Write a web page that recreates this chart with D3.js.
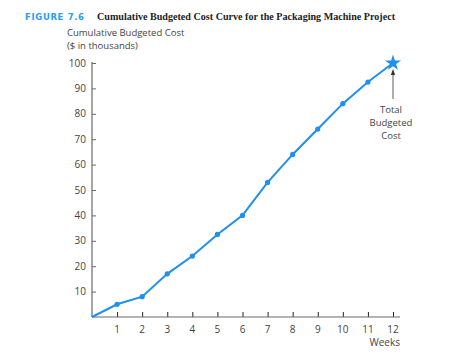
<!DOCTYPE html>
<html><head><meta charset="utf-8">
<script src="https://cdn.jsdelivr.net/npm/d3@7"></script>
<style>body{margin:0;background:#fff}svg{display:block}</style>
</head><body>
<svg id="c" width="467" height="354"></svg>
<script>
const weeks = [0,1,2,3,4,5,6,7,8,9,10,11,12];
const cumulativeCost = [0,5,8,17,24,32.5,40,53,64,74,84,92.5,100];
const xTicks = [1,2,3,4,5,6,7,8,9,10,11,12];
const yTicks = [10,20,30,40,50,60,70,80,90,100];
const titleLabel = "FIGURE 7.6";
const titleText = "Cumulative Budgeted Cost Curve for the Packaging Machine Project";
const yLabel = ["Cumulative Budgeted Cost","($ in thousands)"];
const xLabel = "Weeks";
const annotation = ["Total","Budgeted","Cost"];

const svg = d3.select("#c");
const blue = "#1f8ff0";
const axisCol = "#6b6b6b";
const textCol = "#444";
const sans = "'Open Sans','Noto Sans',sans-serif";

const x = d3.scaleLinear().domain([0,12]).range([92,393]);
const y = d3.scaleLinear().domain([0,100]).range([317,63]);

// title
svg.append("text").attr("x",25).attr("y",20).attr("font-family","'DejaVu Sans',sans-serif")
  .attr("font-weight","bold").attr("font-size",8.5).attr("fill","#2a9df4")
  .attr("letter-spacing",1).attr("textLength",60).text(titleLabel);
svg.append("text").attr("x",97).attr("y",20).attr("font-family","'Liberation Serif',serif")
  .attr("font-weight","bold").attr("font-size",10.5).attr("fill","#222")
  .attr("textLength",298).attr("lengthAdjust","spacingAndGlyphs").text(titleText);

// y label
yLabel.forEach((t,i)=>svg.append("text").attr("x",67).attr("y",36+i*13)
  .attr("font-family",sans).attr("font-size",9.5).attr("fill",textCol).text(t));

// axes
const xAxis = svg.append("g").attr("transform",`translate(0,${y(0)})`)
  .call(d3.axisTop(x).tickValues(xTicks).tickSize(5).tickFormat(""));
xAxis.select(".domain").remove();
xAxis.selectAll(".tick line").attr("stroke","#222");
svg.append("line").attr("x1",x(0)).attr("x2",400).attr("y1",y(0)).attr("y2",y(0))
  .attr("stroke",axisCol).attr("stroke-width",1.2);
svg.selectAll(".xl").data(xTicks).enter().append("text").attr("class","xl")
  .attr("x",d=>x(d)).attr("y",y(0)+16).attr("text-anchor","middle")
  .attr("font-family",sans).attr("font-size",10).attr("fill",textCol).text(d=>d);

const yAxis = svg.append("g").attr("transform",`translate(${x(0)},0)`)
  .call(d3.axisRight(y).tickValues(yTicks).tickSize(4).tickFormat(""));
yAxis.select(".domain").remove();
yAxis.selectAll(".tick line").attr("stroke",axisCol);
svg.append("line").attr("x1",x(0)).attr("x2",x(0)).attr("y1",y(0)).attr("y2",y(100)-1)
  .attr("stroke",axisCol).attr("stroke-width",1.2);
svg.selectAll(".yl").data(yTicks).enter().append("text").attr("class","yl")
  .attr("x",x(0)-6).attr("y",d=>y(d)+3.5).attr("text-anchor","end")
  .attr("font-family",sans).attr("font-size",10).attr("fill",textCol).text(d=>d);

svg.append("text").attr("x",400).attr("y",346).attr("text-anchor","end")
  .attr("font-family",sans).attr("font-size",10).attr("fill",textCol).text(xLabel);

// line
const data = weeks.map((w,i)=>({w,v:cumulativeCost[i]}));
svg.append("path").datum(data).attr("fill","none").attr("stroke",blue).attr("stroke-width",2)
  .attr("d",d3.line().x(d=>x(d.w)).y(d=>y(d.v)));
svg.selectAll(".pt").data(data.slice(1,-1)).enter().append("circle").attr("class","pt")
  .attr("cx",d=>x(d.w)).attr("cy",d=>y(d.v)).attr("r",2.6).attr("fill",blue);
const last = data[data.length-1];
svg.append("path").attr("d",d3.symbol(d3.symbolStar,80)())
  .attr("transform",`translate(${x(last.w)},${y(last.v)})`).attr("fill",blue);

// annotation arrow
const ax = x(last.w);
svg.append("line").attr("x1",ax).attr("x2",ax).attr("y1",y(last.v)+36).attr("y2",y(last.v)+10)
  .attr("stroke","#333").attr("stroke-width",0.8);
svg.append("path").attr("d",`M${ax-2.2},${y(last.v)+12} L${ax},${y(last.v)+6} L${ax+2.2},${y(last.v)+12} Z`)
  .attr("fill","#333");
annotation.forEach((t,i)=>svg.append("text").attr("x",ax-2).attr("y",y(last.v)+50+i*13)
  .attr("text-anchor","middle").attr("font-family",sans).attr("font-size",9.5)
  .attr("fill",textCol).text(t));
</script>
</body></html>
